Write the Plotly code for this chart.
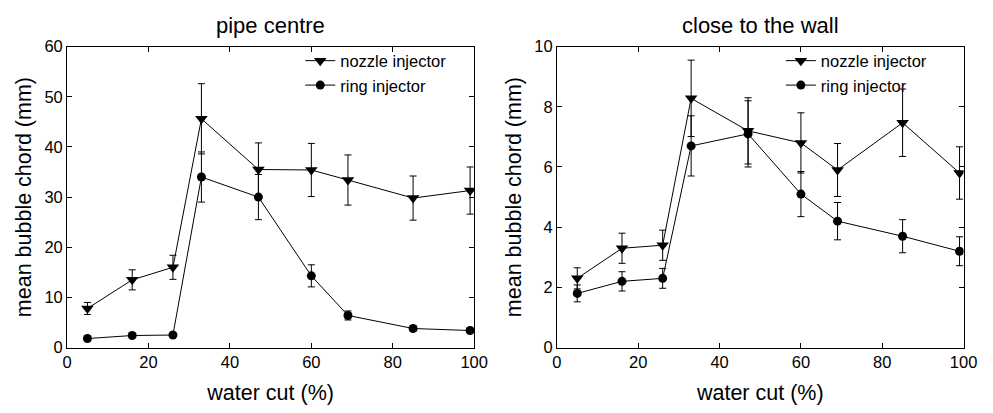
import plotly.graph_objects as go

water_cut = [5, 16, 26, 33, 47, 60, 69, 85, 99]

# pipe centre
centre_nozzle = [7.8, 13.5, 16.0, 45.6, 35.5, 35.4, 33.4, 29.8, 31.3]
centre_nozzle_err = [1.2, 2.0, 2.4, 7.0, 5.3, 5.3, 5.0, 4.4, 4.7]
centre_ring = [1.8, 2.4, 2.5, 34.0, 30.0, 14.3, 6.4, 3.8, 3.4]
centre_ring_err = [0.3, 0.3, 0.3, 5.0, 4.5, 2.2, 0.9, 0.5, 0.4]

# close to the wall
wall_nozzle = [2.3, 3.3, 3.4, 8.28, 7.2, 6.8, 5.9, 7.47, 5.8]
wall_nozzle_err = [0.35, 0.5, 0.5, 1.27, 1.1, 1.0, 0.88, 1.12, 0.87]
wall_ring = [1.8, 2.2, 2.3, 6.7, 7.1, 5.1, 4.2, 3.7, 3.2]
wall_ring_err = [0.28, 0.32, 0.33, 1.0, 1.1, 0.75, 0.62, 0.55, 0.48]

titles = ["pipe centre", "close to the wall"]
x_label = "water cut (%)"
y_label = "mean bubble chord (mm)"
series_names = ["nozzle injector", "ring injector"]

FONT = "Liberation Sans, Arial, Helvetica, sans-serif"
W, H = 993, 413

fig = go.Figure()

def add_series(x, y, err, name, symbol, size, xa, ya, legend):
    fig.add_trace(go.Scatter(
        x=x, y=y, name=name, mode="lines+markers",
        xaxis=xa, yaxis=ya, legend=legend,
        line=dict(color="black", width=1),
        marker=dict(symbol=symbol, size=size, color="black"),
        error_y=dict(type="data", array=err, visible=True, color="black",
                     thickness=1, width=3.5),
    ))

add_series(water_cut, centre_nozzle, centre_nozzle_err, series_names[0], "triangle-down", 11, "x", "y", "legend")
add_series(water_cut, centre_ring, centre_ring_err, series_names[1], "circle", 9, "x", "y", "legend")
add_series(water_cut, wall_nozzle, wall_nozzle_err, series_names[0], "triangle-down", 11, "x2", "y2", "legend2")
add_series(water_cut, wall_ring, wall_ring_err, series_names[1], "circle", 9, "x2", "y2", "legend2")

def px_x(p):
    return p / W

def px_y(p):
    return 1 - p / H

axis_common = dict(
    showline=True, linecolor="black", linewidth=1, mirror="ticks",
    ticks="inside", ticklen=5, tickcolor="black", tickwidth=1,
    showgrid=False, zeroline=False,
    tickfont=dict(family=FONT, size=16.5, color="black"),
)

ydom = [px_y(354), px_y(39.3)]
TITLE_FONT = dict(family=FONT, size=21.5, color="black")
LEG_FONT = dict(family=FONT, size=16.5, color="black")

fig.update_layout(
    width=W, height=H,
    margin=dict(l=0, r=0, t=0, b=0),
    paper_bgcolor="white", plot_bgcolor="white",
    font=dict(family=FONT, color="black"),
    xaxis=dict(domain=[px_x(63.3), px_x(478.3)], range=[0, 100], dtick=20,
               anchor="y",
               title=dict(text=x_label, font=TITLE_FONT, standoff=14),
               **axis_common),
    yaxis=dict(domain=ydom, range=[0, 60], dtick=10, anchor="x",
               title=dict(text=y_label, font=TITLE_FONT, standoff=6),
               **axis_common),
    xaxis2=dict(domain=[px_x(562.7), px_x(977.3)], range=[0, 100], dtick=20,
                anchor="y2",
                title=dict(text=x_label, font=TITLE_FONT, standoff=14),
                **axis_common),
    yaxis2=dict(domain=ydom, range=[0, 10], dtick=2, anchor="x2",
                title=dict(text=y_label, font=TITLE_FONT, standoff=6),
                **axis_common),
    legend=dict(x=px_x(301), y=px_y(36), xanchor="left", yanchor="top",
                bgcolor="rgba(0,0,0,0)", font=LEG_FONT, itemwidth=30),
    legend2=dict(x=px_x(791), y=px_y(36), xanchor="left", yanchor="top",
                 bgcolor="rgba(0,0,0,0)", font=LEG_FONT, itemwidth=30),
    annotations=[
        dict(text=titles[0], x=(px_x(63.3) + px_x(478.3)) / 2, y=px_y(17),
             xref="paper", yref="paper", showarrow=False,
             font=dict(family=FONT, size=22), xanchor="center", yanchor="middle"),
        dict(text=titles[1], x=(px_x(562.7) + px_x(977.3)) / 2, y=px_y(17),
             xref="paper", yref="paper", showarrow=False,
             font=dict(family=FONT, size=22), xanchor="center", yanchor="middle"),
    ],
)

fig.write_html("out.html")
